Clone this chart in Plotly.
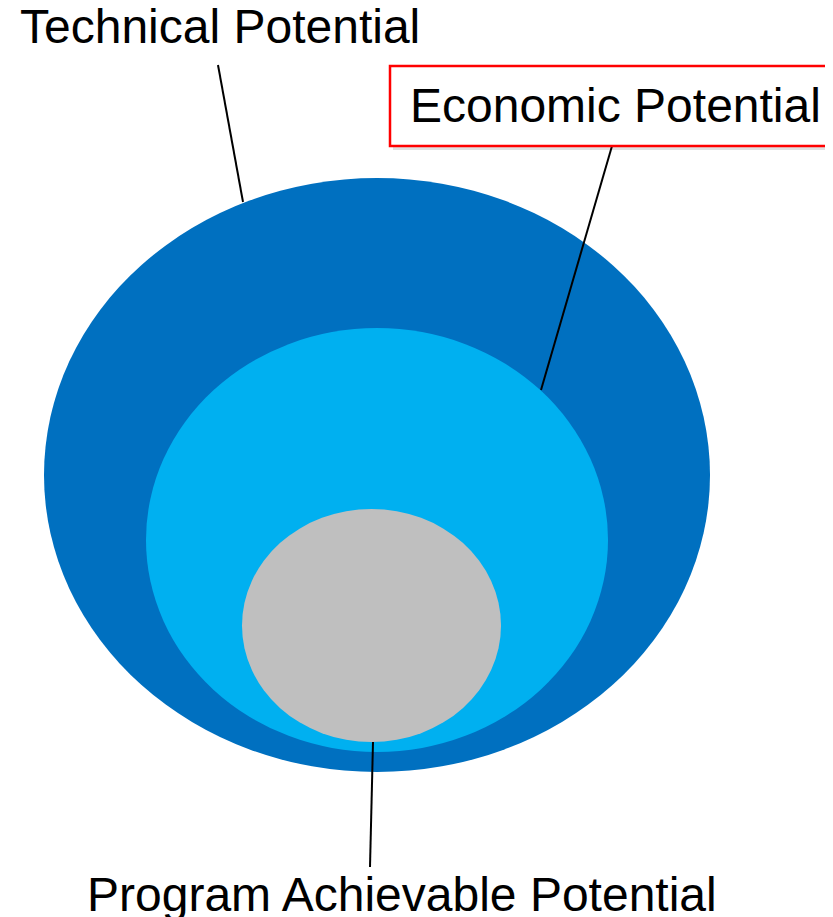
import plotly.graph_objects as go

# Nested potentials (ellipses in pixel-like units): outer -> inner
names = ["Technical Potential", "Economic Potential", "Program Achievable Potential"]
cx = [377, 377, 371.5]
cy = [475, 540, 625.5]
rx = [333, 231, 129.5]
ry = [297, 212, 116.5]
colors = ["#0070C0", "#00B0F0", "#BFBFBF"]

# Leader lines: (label end) -> (ellipse end)
lead_x0 = [218, 612, 370]
lead_y0 = [65, 146, 867]
lead_x1 = [243, 541, 373]
lead_y1 = [202, 390, 742]

W, H = 833, 917
OFF = 8  # page body margin compensation
fig = go.Figure()
shapes = []
for i in range(3):
    shapes.append(dict(type="circle", xref="x", yref="y",
                       x0=cx[i] - rx[i], x1=cx[i] + rx[i],
                       y0=cy[i] - ry[i], y1=cy[i] + ry[i],
                       fillcolor=colors[i], line=dict(width=0), layer="below"))
for i in range(3):
    shapes.append(dict(type="line", xref="x", yref="y",
                       x0=lead_x0[i], y0=lead_y0[i], x1=lead_x1[i], y1=lead_y1[i],
                       line=dict(color="black", width=2)))
# box shadow + box for Economic Potential
shapes.append(dict(type="rect", xref="x", yref="y", x0=393, x1=860, y0=69, y1=150,
                   fillcolor="rgba(0,0,0,0.12)", line=dict(width=0)))
shapes.append(dict(type="rect", xref="x", yref="y", x0=390, x1=860, y0=66, y1=146,
                   fillcolor="white", line=dict(color="#FF0000", width=2.5)))

font = dict(family="Liberation Sans, Arial", size=48, color="black")
annotations = [
    dict(x=18, y=26.5, xref="x", yref="y", text=names[0], showarrow=False,
         xanchor="left", yanchor="middle", font=font),
    dict(x=615, y=105, xref="x", yref="y", text=names[1], showarrow=False,
         xanchor="center", yanchor="middle", font=font),
    dict(x=402, y=894, xref="x", yref="y", text=names[2], showarrow=False,
         xanchor="center", yanchor="middle", font=font),
]

# invisible trace so axes exist
fig.add_trace(go.Scatter(x=[OFF, W], y=[OFF, H], mode="markers", marker=dict(opacity=0),
                         hoverinfo="skip", showlegend=False))
fig.update_layout(width=W, height=H, margin=dict(l=0, r=0, t=0, b=0),
                  paper_bgcolor="white", plot_bgcolor="white",
                  shapes=shapes, annotations=annotations, showlegend=False,
                  xaxis=dict(range=[OFF, W + OFF], visible=False, fixedrange=True),
                  yaxis=dict(range=[H + OFF, OFF], visible=False, fixedrange=True))
fig.write_html("out.html", config={"displayModeBar": False})
